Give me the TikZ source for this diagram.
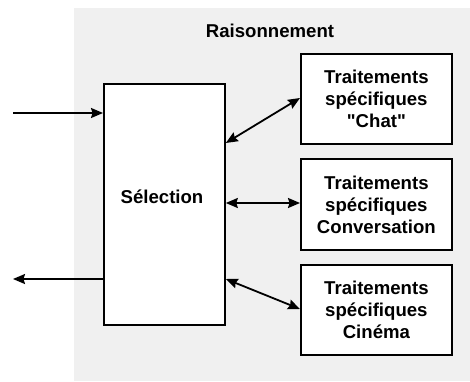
\documentclass[tikz,border=0pt]{standalone}
\usepackage{fontspec}
\setmainfont{Liberation Sans}[Ligatures=TeXOff]
\usetikzlibrary{arrows.meta}
\definecolor{bggray}{HTML}{F0F0F0}
\tikzset{
  box/.style={draw=black, line width=1.8pt, fill=white, inner sep=0pt, anchor=north west},
  lbl/.style={font=\fontsize{18.6}{22}\selectfont\bfseries, align=center, inner sep=0pt},
  arr/.style={line width=1.8pt, -{Stealth[length=12pt,width=10pt,inset=1.5pt]}},
  darr/.style={line width=1.8pt, {Stealth[length=12pt,width=10pt,inset=1.5pt]}-{Stealth[length=12pt,width=10pt,inset=1.5pt]}}
}
\begin{document}
\begin{tikzpicture}[x=1pt,y=-1pt]
\useasboundingbox (0,0) rectangle (470,381);
\fill[bggray] (74,8) rectangle (470,381);
\node[lbl] (title) at (270,31) {Raisonnement};
\node[box, minimum width=121pt, minimum height=241pt] (sel) at (103,83) {};
\node[lbl] (seltxt) at (162,197) {Sélection};
\node[box, minimum width=151pt, minimum height=90pt] (b1) at (300,53) {};
\node[lbl] at (b1.center) {Traitements\\spécifiques\\"Chat"};
\node[box, minimum width=151pt, minimum height=91pt] (b2) at (300,158) {};
\node[lbl] at (b2.center) {Traitements\\spécifiques\\Conversation};
\node[box, minimum width=151pt, minimum height=90pt] (b3) at (300,264) {};
\node[lbl] at (b3.center) {Traitements\\spécifiques\\Cinéma};
\coordinate (in) at (13,113);
\coordinate (out) at (13,279);
\draw[arr] (in) -- (sel.west |- in);
\draw[arr] (sel.west |- out) -- (out);
\draw[darr] (sel.east |- 0,143) -- (b1.west |- 0,98);
\draw[darr] (sel.east |- 0,203) -- (b2.west |- 0,203);
\draw[darr] (sel.east |- 0,279) -- (b3.west |- 0,309);
\end{tikzpicture}
\end{document}
